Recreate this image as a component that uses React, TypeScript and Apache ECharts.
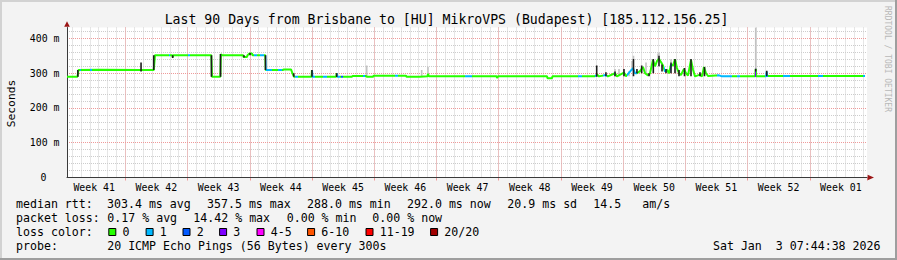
import React, { useEffect, useRef } from 'react';
import * as echarts from 'echarts';

// ---------- texts ----------
const TITLE = 'Last 90 Days from Brisbane to [HU] MikroVPS (Budapest) [185.112.156.25]';
const Y_UNIT = 'Seconds';
const WATERMARK = 'RRDTOOL / TOBI OETIKER';
const WEEK_LABELS = ['Week 41', 'Week 42', 'Week 43', 'Week 44', 'Week 45', 'Week 46', 'Week 47', 'Week 48', 'Week 49', 'Week 50', 'Week 51', 'Week 52', 'Week 01'];
const RTT_HEAD = 'median rtt:';
const RTT_STATS = ['303.4 ms avg', '357.5 ms max', '288.0 ms min', '292.0 ms now', '20.9 ms sd', '14.5', 'am/s'];
const LOSS_HEAD = 'packet loss:';
const LOSS_STATS = ['0.17 % avg', '14.42 % max', '0.00 % min', '0.00 % now'];
const COLOR_HEAD = 'loss color:';
const LOSS_LABELS = ['0', '1', '2', '3', '4-5', '6-10', '11-19', '20/20'];
const LOSS_COLORS = ['#26ff00', '#00b8ff', '#0059ff', '#7e00ff', '#ff00ff', '#ff5500', '#ff0000', '#a10000'];
const PROBE_HEAD = 'probe:';
const PROBE = '20 ICMP Echo Pings (56 Bytes) every 300s';
const TIMESTAMP = 'Sat Jan  3 07:44:38 2026';

// ---------- data (x = days since Monday of week 41, y = ms) ----------
const T_MIN = 0.44;
const T_MAX = 90.44;
const Y_MAX = 431.6;

const MEDIAN: [number, number][] = [
  [0.44, 290], [1.62, 290], [1.73, 309], [4.0, 310], [8.77, 309], [10.19, 309], [10.26, 327], [10.34, 352],
  [12.28, 352], [12.33, 346], [12.4, 352], [16.67, 352], [16.71, 327], [16.75, 290], [17.69, 290], [17.75, 355],
  [17.88, 352], [20.24, 352], [20.3, 347], [20.69, 347], [20.75, 352], [20.97, 357], [21.25, 357], [21.31, 352],
  [22.75, 352], [22.8, 309], [24.74, 309], [24.8, 311], [25.64, 311], [25.8, 300], [25.98, 290], [27.95, 290],
  [28.0, 309], [28.06, 290], [30.72, 290], [30.78, 300], [30.84, 290], [32.5, 290], [32.56, 292], [34.1, 292],
  [34.16, 290], [34.87, 290], [34.93, 293], [38.58, 293], [38.64, 290], [40.15, 290], [40.21, 291], [41.0, 291],
  [41.05, 298], [41.16, 291], [48.77, 291], [48.82, 286], [48.93, 291], [54.44, 291], [54.5, 285.5], [55.0, 285.5],
  [55.06, 291], [59.84, 291], [60.06, 296], [60.29, 291], [61.07, 295], [61.29, 291], [62.09, 300], [62.31, 291],
  [63.1, 302], [63.32, 291], [64.11, 315], [64.34, 300], [64.56, 300], [64.9, 306], [65.24, 318], [65.47, 300],
  [65.8, 294], [66.03, 300], [66.36, 338], [66.59, 320], [66.81, 335], [67.04, 342], [67.26, 332], [67.49, 322],
  [67.71, 305], [67.94, 310], [68.16, 300], [68.39, 325], [68.61, 322], [68.84, 340], [69.06, 315], [69.29, 300],
  [69.51, 295], [69.85, 312], [70.08, 300], [70.3, 293], [70.64, 338], [70.87, 310], [71.09, 291], [71.65, 296],
  [71.88, 291], [72.1, 318], [72.33, 300], [72.55, 292], [73.0, 293], [73.79, 294], [74.13, 291], [77.86, 291],
  [77.92, 313], [77.98, 291], [79.1, 291], [79.16, 305], [79.22, 292], [90.22, 292],
];

// [day, low ms, high ms]
const SMOKE_DARK: [number, number, number][] = [
  [1.66, 290, 309], [8.77, 305, 331], [10.2, 309, 352], [12.33, 344, 352], [16.69, 290, 352], [17.71, 290, 355],
  [20.35, 345, 352], [21.03, 352, 358], [22.77, 309, 352], [25.95, 290, 300], [28.0, 290, 309], [30.78, 289, 300],
  [60.03, 290, 322], [61.07, 291, 303], [62.09, 291, 305], [63.1, 291, 312], [64.17, 291, 341], [64.56, 300, 312],
  [65.09, 300, 322], [65.92, 291, 300], [66.4, 300, 341], [67.04, 320, 350], [67.38, 305, 325], [67.83, 300, 312],
  [68.39, 300, 331], [68.84, 300, 341], [69.29, 291, 309], [69.91, 291, 315], [70.64, 291, 341], [71.65, 291, 303],
  [72.16, 291, 318], [77.92, 305, 313], [79.16, 291, 307],
];

const SMOKE_LIGHT: [number, number, number][] = [
  [34.16, 290, 322], [40.34, 290, 309], [41.05, 292, 319], [62.09, 291, 312], [62.54, 291, 312], [63.67, 291, 306],
  [64.0, 315, 335], [64.17, 341, 350], [65.58, 300, 331], [66.93, 338, 357], [67.04, 350, 360], [68.39, 331, 340],
  [77.92, 313, 432],
];

// [start day, end day, loss colour index]
const LOSS_SEGMENTS: [number, number, number][] = [
  [1.85, 2.01, 1], [3.03, 3.25, 1], [11.88, 12.03, 1], [14.05, 14.28, 1], [20.3, 20.41, 1], [21.48, 21.82, 1],
  [22.15, 22.6, 1], [22.8, 23.5, 1], [24.18, 24.63, 1], [26.09, 26.43, 1], [28.0, 28.34, 1], [29.24, 29.69, 1],
  [30.82, 31.16, 1], [31.26, 31.49, 2], [33.74, 33.97, 1], [37.34, 37.68, 1], [45.22, 46.0, 1], [57.93, 58.38, 1],
  [59.84, 60.06, 1], [60.74, 61.19, 1], [61.97, 62.09, 1], [63.44, 64.56, 1], [67.66, 67.94, 1], [68.28, 68.5, 1],
  [73.56, 75.25, 1], [75.82, 76.15, 1], [77.86, 77.98, 3], [78.97, 79.31, 1], [80.99, 81.78, 1], [84.93, 85.49, 1],
  [90.0, 90.22, 1],
];

// ---------- layout ----------
const W = 897;
const H = 260;
const PLOT_LEFT = 67;
const PLOT_TOP = 27.5;
const PLOT_W = 800;
const PLOT_H = 150;
const PPD = PLOT_W / (T_MAX - T_MIN);
const MONO = '"DejaVu Sans Mono", monospace';
const AXIS_FONT = 9.9;
const LEGEND_FONT = 11.6;
const ROW_Y = [204.3, 218.3, 232.3, 246.3];
const COL_X = 107.2;
const RTT_X = [107, 207, 307, 407, 507.3, 593.3, 642.3];
const LOSS_X = [107.3, 193.3, 286.7, 372.3];
const SWATCH_X = [108.3, 145.6, 182.5, 219.1, 256.5, 307.1, 365.5, 430.1];
const GRID_GRAY = '#cdcdcd';
const GRID_RED = '#ee9a9a';
const AXIS_COLOR = '#3a3a3a';

function txt(text: string, x: number, y: number, size: number, extra: any = {}) {
  return {
    type: 'text',
    x,
    y,
    silent: true,
    ...extra,
    style: {
      text,
      fill: extra.fill || '#000',
      font: `${size}px ${MONO}`,
      textAlign: extra.align || 'left',
      align: extra.align || 'left',
      textVerticalAlign: 'middle',
      verticalAlign: 'middle',
    },
  };
}

function smokeSeries(data: [number, number, number][], color: string, z: number) {
  return {
    type: 'custom',
    xAxisIndex: 0,
    yAxisIndex: 0,
    z,
    silent: true,
    clip: true,
    encode: { x: 0, y: [1, 2] },
    data,
    renderItem: (_p: any, api: any) => {
      const t = api.value(0);
      const top = api.coord([t, api.value(2)]);
      const bot = api.coord([t, api.value(1)]);
      return {
        type: 'rect',
        shape: { x: top[0] - 0.8, y: top[1], width: 1.6, height: Math.max(1, bot[1] - top[1]) },
        style: { fill: color },
      };
    },
  };
}

function subGrid(startDay: number) {
  const off = (startDay - T_MIN) * PPD;
  return { left: PLOT_LEFT + off, top: PLOT_TOP, width: PLOT_W - off, height: PLOT_H, show: false, containLabel: false, outerBoundsMode: 'none' };
}

function buildOption(): any {
  const graphics: any[] = [];
  // frame shading
  graphics.push({ type: 'rect', shape: { x: 0, y: 0, width: W, height: 2 }, style: { fill: '#d2d2d2' }, silent: true });
  graphics.push({ type: 'rect', shape: { x: 0, y: 0, width: 2, height: H }, style: { fill: '#d2d2d2' }, silent: true });
  graphics.push({ type: 'rect', shape: { x: 0, y: H - 2, width: W, height: 2 }, style: { fill: '#9e9e9e' }, silent: true });
  graphics.push({ type: 'rect', shape: { x: W - 2, y: 0, width: 2, height: H }, style: { fill: '#9e9e9e' }, silent: true });
  // arrows
  graphics.push({ type: 'polygon', shape: { points: [[64.2, 26.8], [69.8, 26.8], [67, 21.2]] }, style: { fill: '#9b1515' }, silent: true, z: 10 });
  graphics.push({ type: 'polygon', shape: { points: [[867.6, 174.7], [867.6, 180.3], [874, 177.5]] }, style: { fill: '#9b1515' }, silent: true, z: 10 });
  // title, unit, watermark
  graphics.push(txt(TITLE, 446.5, 19, 13.2, { align: 'center' }));
  graphics.push(txt(Y_UNIT, 11, 103.5, 11.3, { align: 'center', rotation: Math.PI / 2 }));
  graphics.push(txt(WATERMARK, 887.5, 59, 8, { align: 'center', rotation: -Math.PI / 2, fill: '#b8b8b8' }));
  // legend rows
  graphics.push(txt(RTT_HEAD, 16, ROW_Y[0], LEGEND_FONT));
  RTT_STATS.forEach((s, i) => graphics.push(txt(s, RTT_X[i], ROW_Y[0], LEGEND_FONT)));
  graphics.push(txt(LOSS_HEAD, 16, ROW_Y[1], LEGEND_FONT));
  LOSS_STATS.forEach((s, i) => graphics.push(txt(s, LOSS_X[i], ROW_Y[1], LEGEND_FONT)));
  graphics.push(txt(COLOR_HEAD, 16, ROW_Y[2], LEGEND_FONT));
  LOSS_LABELS.forEach((s, i) => {
    graphics.push({
      type: 'rect',
      shape: { x: SWATCH_X[i] + 0.5, y: ROW_Y[2] - 3.8, width: 7, height: 7 },
      style: { fill: LOSS_COLORS[i], stroke: '#000', lineWidth: 1 },
      silent: true,
    });
    graphics.push(txt(s, SWATCH_X[i] + 14.2, ROW_Y[2], LEGEND_FONT));
  });
  graphics.push(txt(PROBE_HEAD, 16, ROW_Y[3], LEGEND_FONT));
  graphics.push(txt(PROBE, COL_X, ROW_Y[3], LEGEND_FONT));
  graphics.push(txt(TIMESTAMP, 880.5, ROW_Y[3], LEGEND_FONT, { align: 'right' }));

  const hiddenY = (gridIndex: number) => ({ type: 'value', gridIndex, min: 0, max: Y_MAX, show: false });
  const dotted = (color: string) => ({ show: true, showMaxLine: false, lineStyle: { color, width: 1, type: [1, 1] } });

  return {
    animation: false,
    backgroundColor: '#f3f3f3',
    textStyle: { fontFamily: MONO },
    grid: [
      { left: PLOT_LEFT, top: PLOT_TOP, width: PLOT_W, height: PLOT_H, show: true, backgroundColor: '#ffffff', borderWidth: 0, containLabel: false, outerBoundsMode: 'none' },
      subGrid(1),
      subGrid(7),
      subGrid(3.5),
    ],
    xAxis: [
      {
        type: 'value', gridIndex: 0, min: T_MIN, max: T_MAX, z: 3,
        axisLine: { show: true, onZero: false, lineStyle: { color: AXIS_COLOR, width: 1 } },
        axisTick: { show: false }, axisLabel: { show: false }, splitLine: { show: false },
      },
      {
        type: 'value', gridIndex: 1, min: 0, max: T_MAX - 1, interval: 1, z: 0,
        axisLine: { show: false }, axisTick: { show: false }, axisLabel: { show: false },
        splitLine: dotted(GRID_GRAY),
      },
      {
        type: 'value', gridIndex: 2, min: 0, max: T_MAX - 7, interval: 7, z: 1,
        axisLine: { show: false },
        axisTick: { show: true, length: 3, lineStyle: { color: GRID_RED } },
        axisLabel: { show: false },
        splitLine: dotted(GRID_RED),
      },
      {
        type: 'value', gridIndex: 3, min: 0, max: T_MAX - 3.5, interval: 7,
        axisLine: { show: false }, axisTick: { show: false }, splitLine: { show: false },
        axisLabel: {
          show: true, margin: 5, showMaxLabel: false, color: '#000', fontFamily: MONO, fontSize: AXIS_FONT,
          formatter: (v: number) => WEEK_LABELS[Math.round(v / 7)] || '',
        },
      },
    ],
    yAxis: [
      {
        type: 'value', gridIndex: 0, min: 0, max: Y_MAX, interval: 100, z: 1,
        axisLine: { show: true, lineStyle: { color: AXIS_COLOR, width: 1 } },
        axisTick: { show: false },
        axisLabel: {
          show: true, margin: 7.5, showMaxLabel: false, color: '#000', fontFamily: MONO, fontSize: AXIS_FONT,
          formatter: (v: number) => (v === 0 ? '{z|0}' : `${v} m`),
          rich: { z: { padding: [0, 13, 0, 0], fontFamily: MONO, fontSize: AXIS_FONT, color: '#000' } },
        },
        splitLine: dotted(GRID_RED),
      },
      {
        type: 'value', gridIndex: 0, min: 0, max: Y_MAX, interval: 20, z: 0,
        axisLine: { show: false }, axisTick: { show: false }, axisLabel: { show: false },
        splitLine: dotted(GRID_GRAY),
      },
      hiddenY(1),
      hiddenY(2),
      hiddenY(3),
    ],
    visualMap: {
      type: 'piecewise',
      show: false,
      seriesIndex: 1,
      dimension: 0,
      pieces: LOSS_SEGMENTS.map(([s, e, c]) => ({ gte: s, lt: e, color: LOSS_COLORS[c] })),
      outOfRange: { color: LOSS_COLORS[0] },
    },
    series: [
      smokeSeries(SMOKE_LIGHT, '#c2c2c2', 3),
      {
        type: 'line',
        xAxisIndex: 0,
        yAxisIndex: 0,
        z: 4,
        data: MEDIAN,
        symbol: 'none',
        silent: true,
        lineStyle: { width: 2 },
      },
      smokeSeries(SMOKE_DARK, '#1c1c1c', 5),
    ],
    graphic: { elements: graphics },
  };
}

export default function App() {
  const ref = useRef<HTMLDivElement>(null);
  useEffect(() => {
    if (!ref.current) return;
    const chart = echarts.init(ref.current, null, { renderer: 'svg' });
    chart.setOption(buildOption());
    return () => chart.dispose();
  }, []);
  return <div ref={ref} style={{ position: 'absolute', left: 0, top: 0, width: W, height: H }} />;
}
